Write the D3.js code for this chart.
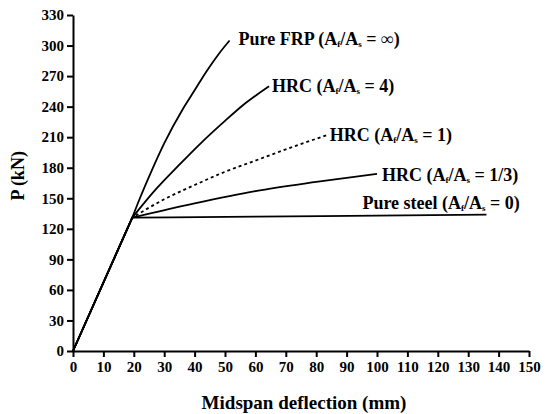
<!DOCTYPE html>
<html>
<head>
<meta charset="utf-8">
<script src="https://cdn.jsdelivr.net/npm/d3@7"></script>
<style>
  body { margin: 0; background: #fff; }
  text { font-family: "Liberation Serif", "Times New Roman", serif; fill: #000; }
</style>
</head>
<body>
<div id="chart-area"></div>
<script>
// deflection (mm) / load (kN)
const frpX   = [0, 19.5, 22, 26, 30, 36, 40, 44, 48, 51.5];
const frpY   = [0, 131, 150, 178, 204, 237, 256, 275, 292, 305];
const hrc4X  = [0, 19.5, 27, 35, 42, 50, 57, 64.5];
const hrc4Y  = [0, 131, 158, 183, 204, 226, 244, 260];
const hrc1X  = [0, 19.5, 30, 40, 50, 60, 70, 83.5];
const hrc1Y  = [0, 131, 149, 163, 176, 187, 198, 212];
const hrc3X  = [0, 19.5, 40, 60, 80, 100];
const hrc3Y  = [0, 131, 145, 157, 166, 174];
const steelX = [0, 19.5, 60, 100, 136];
const steelY = [0, 131, 132, 133, 134];

const xTicks = d3.range(0, 151, 10);
const yTicks = d3.range(0, 331, 30);

const series = [
  { name: "Pure FRP",   ratio: "\u221E", x: frpX,   y: frpY,   dash: null },
  { name: "HRC",        ratio: "4",      x: hrc4X,  y: hrc4Y,  dash: null },
  { name: "HRC",        ratio: "1",      x: hrc1X,  y: hrc1Y,  dash: "3,3" },
  { name: "HRC",        ratio: "1/3",    x: hrc3X,  y: hrc3Y,  dash: null },
  { name: "Pure steel", ratio: "0",      x: steelX, y: steelY, dash: null }
];

const width = 547, height = 414;
const margin = { left: 73, right: 18, top: 15, bottom: 63 };

const svg = d3.select("#chart-area").append("svg")
  .attr("width", width)
  .attr("height", height);

const x = d3.scaleLinear().domain([0, 150]).range([margin.left, width - margin.right]);
const y = d3.scaleLinear().domain([0, 330]).range([height - margin.bottom, margin.top]);

const xAxis = svg.append("g")
  .attr("transform", `translate(0,${y(0)})`)
  .call(d3.axisBottom(x).tickValues(xTicks).tickSize(6).tickPadding(4).tickSizeOuter(0));
const yAxis = svg.append("g")
  .attr("transform", `translate(${x(0)},0)`)
  .call(d3.axisLeft(y).tickValues(yTicks).tickSize(6).tickPadding(3).tickSizeOuter(0));

[xAxis, yAxis].forEach(a => {
  a.select(".domain").attr("stroke", "#000").attr("stroke-width", 2);
  a.selectAll(".tick line").attr("stroke", "#000").attr("stroke-width", 2);
  a.selectAll(".tick text")
    .attr("fill", "#000")
    .style("font-family", "'Liberation Serif', serif")
    .style("font-size", "15px")
    .style("font-weight", "bold");
});

// elastic part is straight, post-yield part is a smooth curve
const curve = d3.line().x(d => x(d[0])).y(d => y(d[1])).curve(d3.curveMonotoneX);

series.forEach(s => {
  const pts = s.x.map((v, i) => [v, s.y[i]]);
  const d = `M${x(pts[0][0])},${y(pts[0][1])}L` + curve(pts.slice(1)).slice(1);
  svg.append("path")
    .attr("fill", "none")
    .attr("stroke", "#000")
    .attr("stroke-width", 1.8)
    .attr("stroke-dasharray", s.dash)
    .attr("d", d);
});

// annotations next to curve ends
const labelOffsets = [
  { dx: 9, dy: 5 },
  { dx: 3, dy: 6 },
  { dx: 3, dy: 6 },
  { dx: 5, dy: 7 },
  { dx: -124, dy: -6 }
];

series.forEach((s, i) => {
  const last = s.x.length - 1;
  const t = svg.append("text")
    .attr("x", x(s.x[last]) + labelOffsets[i].dx)
    .attr("y", y(s.y[last]) + labelOffsets[i].dy)
    .style("font-size", "18px")
    .style("font-weight", "bold");
  t.append("tspan").text(s.name + " (A");
  t.append("tspan").attr("baseline-shift", "-25%").style("font-size", "9px").text("f");
  t.append("tspan").text("/A");
  t.append("tspan").attr("baseline-shift", "-25%").style("font-size", "9px").text("s");
  t.append("tspan").text(" = " + s.ratio + ")");
});

svg.append("text")
  .attr("x", (x(0) + x(150)) / 2 + 3)
  .attr("y", 409)
  .attr("text-anchor", "middle")
  .style("font-size", "19px")
  .style("font-weight", "bold")
  .text("Midspan deflection (mm)");

svg.append("text")
  .attr("transform", `translate(24,${y(172)}) rotate(-90)`)
  .attr("text-anchor", "middle")
  .style("font-size", "18px")
  .style("font-weight", "bold")
  .text("P (kN)");
</script>
</body>
</html>
